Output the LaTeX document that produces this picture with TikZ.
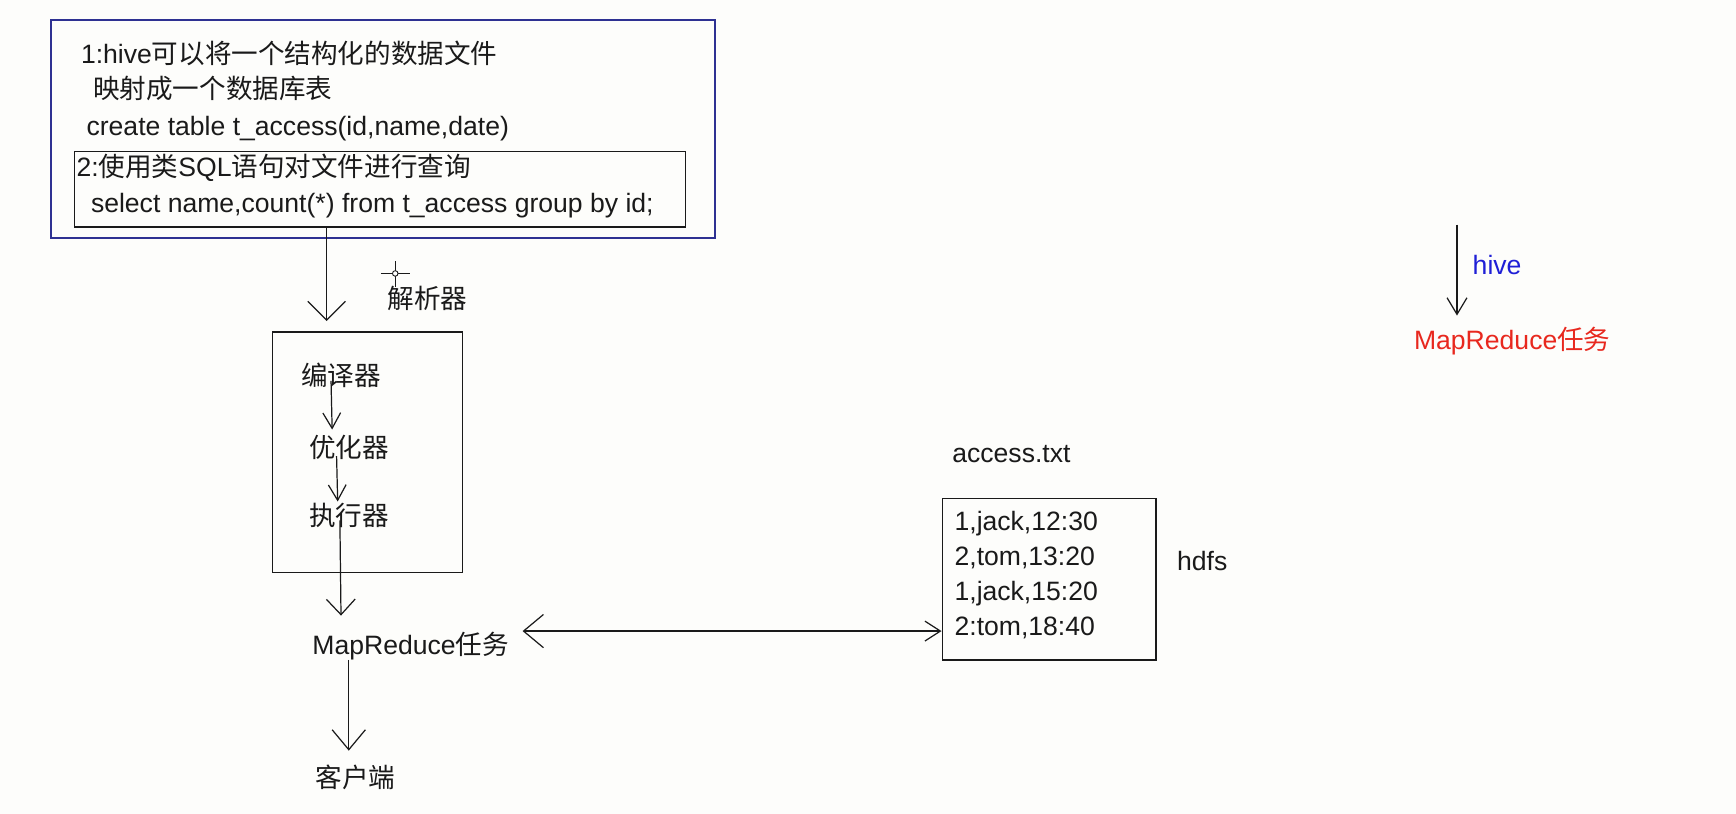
\documentclass[tikz,border=0pt]{standalone}
\usepackage{fontspec}
\setmainfont{Liberation Sans}
\newfontfamily\cjkfont{Noto Sans CJK SC}
\usetikzlibrary{arrows.meta}
\newcommand\zh[1]{{\cjkfont #1}}
\definecolor{boxblue}{HTML}{2E3192}
\definecolor{hiveblue}{HTML}{1F1FD6}
\definecolor{mrred}{HTML}{E8281E}
\definecolor{bg}{HTML}{FDFDFB}
\definecolor{ink}{HTML}{1A1A1A}
\begin{document}
\begin{tikzpicture}[x=1pt,y=-1pt,
  txt/.style={anchor=base west, inner sep=0pt, text=ink, font=\fontsize{24}{28}\selectfont},
  frame/.style={draw=ink, line width=1.2pt, rectangle, inner sep=0pt},
  conn/.style={draw=ink, line width=1.1pt},
  bigtip/.style={-{Straight Barb[length=17pt,width=34pt,line width=1.1pt]}},
  midtip/.style={-{Straight Barb[length=14pt,width=26pt,line width=1.1pt]}},
  smalltip/.style={-{Straight Barb[length=14pt,width=16pt,line width=1.1pt]}}]
\fill[bg] (0,0) rectangle (1568,735);
\useasboundingbox (0,0) rectangle (1568,735);

% outer blue box and inner query box
\node[draw=boxblue, line width=1.5pt, rectangle, minimum width=600pt, minimum height=197pt, inner sep=0pt] (outer) at (346,116.5) {};
\node[frame, minimum width=552pt, minimum height=68pt] (query) at (343,171) {};

\node[txt] (l1) at (73,57) {1:hive\zh{可以将一个结构化的数据文件}};
\node[txt] (l2) at (84,89) {\zh{映射成一个数据库表}};
\node[txt] (l3) at (78,122) {create table t\_access(id,name,date)};
\node[txt] (l4) at (69,159) {2:\zh{使用类}SQL\zh{语句对文件进行查询}};
\node[txt] (l5) at (82,192) {select name,count(*) from t\_access group by id;};

% parser label and cursor
\node[txt] (parser) at (350,279) {\zh{解析器}};
\coordinate (cur) at (357,247);
\draw[ink, line width=0.9pt] ([yshift=-12pt]cur) -- ([yshift=11pt]cur);
\draw[ink, line width=0.9pt] ([xshift=-13pt]cur) -- ([xshift=13pt]cur);
\draw[ink, fill=white, line width=0.8pt] (cur) circle (2.5pt);

% engine box
\node[frame, minimum width=172pt, minimum height=217pt] (engine) at (332,408.5) {};
\node[txt] (comp) at (272,348) {\zh{编译器}};
\node[txt] (opt) at (279,413) {\zh{优化器}};
\node[txt] (exec) at (279,475) {\zh{执行器}};

% MapReduce and client
\node[txt] (mr) at (282,591) {MapReduce\zh{任务}};
\node[txt] (client) at (285,711) {\zh{客户端}};

% data file
\node[txt] (fname) at (860,418) {access.txt};
\node[frame, minimum width=193pt, minimum height=146pt] (data) at (947.5,523) {};
\node[txt] (r1) at (862,479) {1,jack,12:30};
\node[txt] (r2) at (862,511) {2,tom,13:20};
\node[txt] (r3) at (862,542) {1,jack,15:20};
\node[txt] (r4) at (862,574) {2:tom,18:40};
\node[txt] (hdfs) at (1063,515) {hdfs};

% right-hand legend
\node[txt, text=hiveblue] (hive) at (1330,248) {hive};
\node[txt, text=mrred] (mr2) at (1277,316) {MapReduce\zh{任务}};

% connectors
\coordinate (a1) at (295,290);
\draw[conn, bigtip] (query.south -| a1) -- (a1);

\coordinate (b0) at (299,344);
\coordinate (b1) at (300,388);
\draw[conn, smalltip] (b0) -- (b1);
\coordinate (c0) at (304,412);
\coordinate (c1) at (305,453);
\draw[conn, smalltip] (c0) -- (c1);

\coordinate (d0) at (307,470);
\coordinate (d1) at (308,556);
\draw[conn, midtip] (d0) -- (d1);

\coordinate (e0) at (315,596);
\coordinate (e1) at (315,678);
\draw[conn, -{Straight Barb[length=18pt,width=30pt,line width=1.1pt]}] (e0) -- (e1);

\coordinate (f0) at (472,570);
\draw[conn, {Straight Barb[length=18pt,width=30pt,line width=1.1pt]}-{Straight Barb[length=14pt,width=18pt,line width=1.1pt]}] (f0) -- (data.west |- f0);

\coordinate (g0) at (1316,203);
\coordinate (g1) at (1316,285);
\draw[conn, -{Straight Barb[length=15pt,width=18pt,line width=1.1pt]}] (g0) -- (g1);
\end{tikzpicture}
\end{document}
